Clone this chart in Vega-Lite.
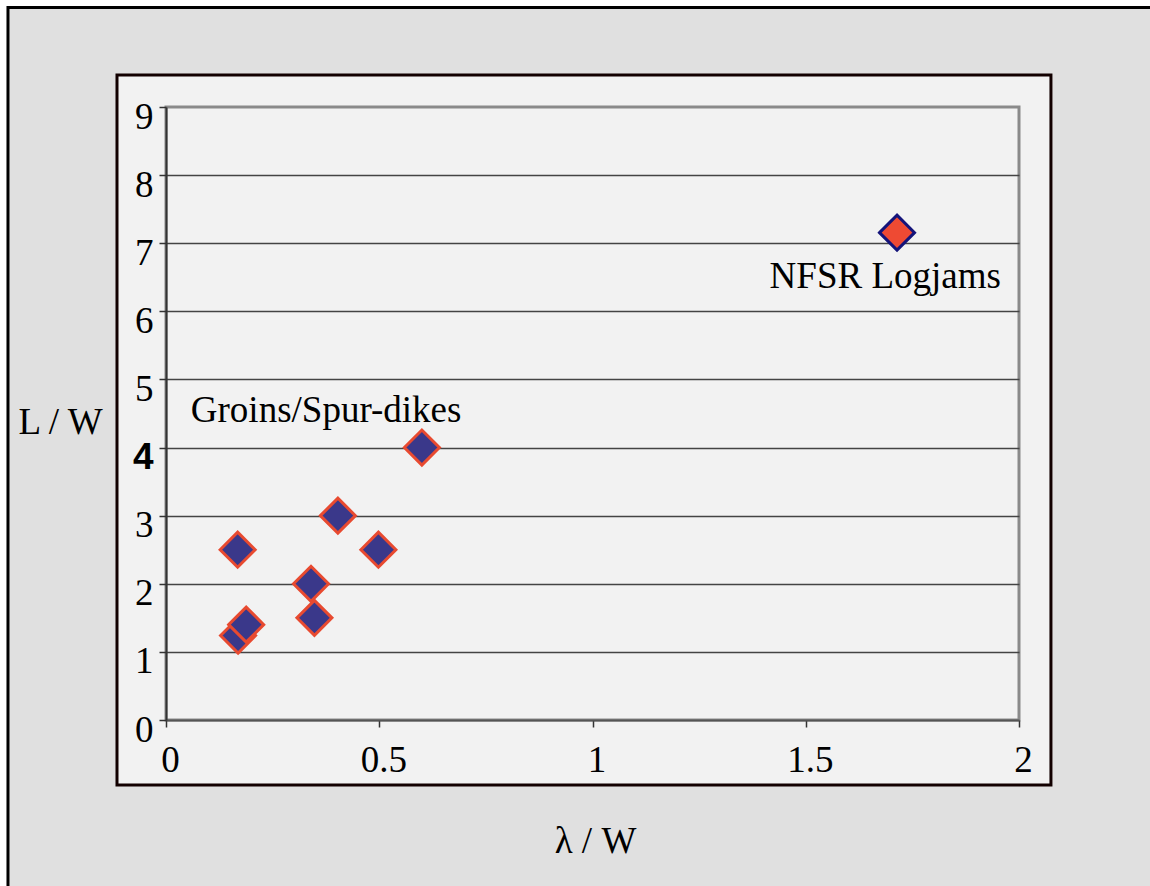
{
  "$schema": "https://vega.github.io/schema/vega-lite/v6.json",
  "width": 853,
  "height": 613,
  "autosize": {"type": "none"},
  "padding": {"left": 166, "top": 107, "right": 131, "bottom": 166},
  "background": "#f2f2f2",
  "config": {
    "view": {"fill": "#f2f2f2", "stroke": "#8a8a8a", "strokeWidth": 3},
    "axis": {"labelFont": "Liberation Serif", "titleFont": "Liberation Serif", "labelColor": "#000", "titleColor": "#000", "titleFontWeight": "normal"}
  },
  "resolve": {"axis": {"x": "independent", "y": "independent"}},
  "layer": [
    {
      "data": {"values": [{}]},
      "mark": {"type": "rect", "filled": false, "stroke": "#e0e0e0", "strokeWidth": 300, "strokeJoin": "miter"},
      "encoding": {
        "x": {"datum": -0.4666, "type": "quantitative", "scale": {"domain": [0, 2], "nice": false, "zero": false}, "axis": null},
        "x2": {"datum": 2.4266},
        "y": {"datum": 11.673, "type": "quantitative", "scale": {"domain": [0, 9], "nice": false, "zero": false},
          "axis": {"orient": "left", "values": [1, 2, 3, 4, 5, 6, 7, 8], "grid": true, "gridColor": "#444", "gridWidth": 1.5, "gridOpacity": 1, "domain": false, "ticks": false, "labels": false, "title": null, "zindex": 0}},
        "y2": {"datum": -3.158}
      }
    },
    {
      "data": {"values": [{}]},
      "mark": {"type": "rect", "filled": false, "stroke": "#ffffff", "strokeWidth": 100},
      "encoding": {
        "x": {"datum": -0.4877, "type": "quantitative", "scale": {"domain": [0, 2], "nice": false, "zero": false}, "axis": null},
        "x2": {"datum": 3.2},
        "y": {"datum": 11.195, "type": "quantitative", "scale": {"domain": [0, 9], "nice": false, "zero": false}, "axis": null},
        "y2": {"datum": -5.5}
      }
    },
    {
      "data": {"values": [{}]},
      "mark": {"type": "rect", "filled": false, "stroke": "#000000", "strokeWidth": 3},
      "encoding": {
        "x": {"datum": -0.3705, "type": "quantitative", "scale": {"domain": [0, 2], "nice": false, "zero": false}, "axis": null},
        "x2": {"datum": 3.0},
        "y": {"datum": 10.461, "type": "quantitative", "scale": {"domain": [0, 9], "nice": false, "zero": false}, "axis": null},
        "y2": {"datum": -5.0}
      }
    },
    {
      "data": {"values": [{}]},
      "mark": {"type": "rect", "filled": false, "stroke": "#120000", "strokeWidth": 3},
      "encoding": {
        "x": {"datum": -0.1149, "type": "quantitative", "scale": {"domain": [0, 2], "nice": false, "zero": false}, "axis": null},
        "x2": {"datum": 2.0749},
        "y": {"datum": 9.4698, "type": "quantitative", "scale": {"domain": [0, 9], "nice": false, "zero": false}, "axis": null},
        "y2": {"datum": -0.9543}
      }
    },
    {
      "data": {"values": [
        {"x": 0.168, "y": 2.5, "group": "Groins/Spur-dikes"},
        {"x": 0.169, "y": 1.24, "group": "Groins/Spur-dikes"},
        {"x": 0.188, "y": 1.4, "group": "Groins/Spur-dikes"},
        {"x": 0.34, "y": 2.0, "group": "Groins/Spur-dikes"},
        {"x": 0.348, "y": 1.5, "group": "Groins/Spur-dikes"},
        {"x": 0.403, "y": 3.0, "group": "Groins/Spur-dikes"},
        {"x": 0.498, "y": 2.5, "group": "Groins/Spur-dikes"},
        {"x": 0.6, "y": 4.0, "group": "Groins/Spur-dikes"},
        {"x": 1.714, "y": 7.155, "group": "NFSR Logjams"}
      ]},
      "mark": {"type": "point", "shape": "diamond", "filled": true, "size": 1225, "strokeWidth": 3, "opacity": 1},
      "encoding": {
        "x": {"field": "x", "type": "quantitative", "scale": {"domain": [0, 2], "nice": false, "zero": false},
          "axis": {"orient": "bottom", "values": [0, 0.5, 1, 1.5, 2], "format": "~g", "grid": false, "zindex": 1,
            "domainColor": "#555", "domainWidth": 2, "tickColor": "#333", "tickWidth": 1.5, "tickSize": 7,
            "labelFontSize": 37, "labelBaseline": "alphabetic", "labelPadding": 44, "labelOffset": 4, "labelFlush": false, "labelOverlap": false, "labelBound": false,
            "title": "λ / W", "titleFontSize": 37, "titleX": 429, "titleY": 132, "titleAlign": "center", "titleBaseline": "alphabetic", "titleAngle": 0}},
        "y": {"field": "y", "type": "quantitative", "scale": {"domain": [0, 9], "nice": false, "zero": false},
          "axis": {"orient": "left", "values": [0, 1, 2, 3, 4, 5, 6, 7, 8, 9], "grid": false, "zindex": 1,
            "domainColor": "#333", "domainWidth": 2, "tickColor": "#333", "tickWidth": 1.5, "tickSize": 7,
            "labelFontSize": 37, "labelBaseline": "alphabetic", "labelPadding": 6, "labelOffset": 21, "labelAlign": "right", "labelFlush": false, "labelOverlap": false, "labelBound": false,
            "labelFont": {"condition": {"test": "datum.value === 4", "value": "Liberation Sans"}, "value": "Liberation Serif"},
            "labelFontWeight": {"condition": {"test": "datum.value === 4", "value": "bold"}, "value": "normal"},
            "title": "L / W", "titleFontSize": 37, "titleAngle": 0, "titleX": -106, "titleY": 326, "titleAlign": "center", "titleBaseline": "alphabetic"}},
        "fill": {"field": "group", "type": "nominal", "scale": {"domain": ["Groins/Spur-dikes", "NFSR Logjams"], "range": ["#3a388a", "#ee4a33"]}, "legend": null},
        "stroke": {"field": "group", "type": "nominal", "scale": {"domain": ["Groins/Spur-dikes", "NFSR Logjams"], "range": ["#e84a30", "#14147a"]}, "legend": null}
      }
    },
    {
      "data": {"values": [
        {"label": "Groins/Spur-dikes", "x": 0.3754, "y": 4.368},
        {"label": "NFSR Logjams", "x": 1.6864, "y": 6.343}
      ]},
      "mark": {"type": "text", "font": "Liberation Serif", "fontSize": 37, "color": "#000", "align": "center", "baseline": "alphabetic"},
      "encoding": {
        "x": {"field": "x", "type": "quantitative", "scale": {"domain": [0, 2], "nice": false, "zero": false}, "axis": null},
        "y": {"field": "y", "type": "quantitative", "scale": {"domain": [0, 9], "nice": false, "zero": false}, "axis": null},
        "text": {"field": "label", "type": "nominal"}
      }
    }
  ]
}
